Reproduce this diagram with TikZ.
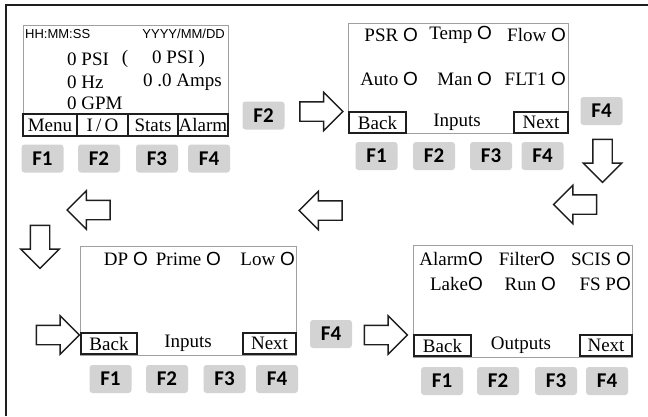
\documentclass[tikz,border=0pt]{standalone}
\usepackage{fontspec}
\setmainfont{Liberation Serif}
\setsansfont{Liberation Sans}
\newfontfamily\keyfont{Carlito}
\usepackage{xcolor}
\usetikzlibrary{shapes.arrows}
\definecolor{keygray}{HTML}{D3D3D3}
\definecolor{lcdline}{HTML}{A0A0A0}
\definecolor{inkblack}{HTML}{1E1E1E}
\newcommand{\lamp}{\textsf{O}}
\newcommand{\shaft}{\rule{0pt}{18pt}}
\newcommand{\vshaft}{\rule{18pt}{0pt}}

\tikzset{
  lcd/.style={draw=lcdline, line width=1pt, inner sep=0pt},
  softkey/.style={draw=inkblack, line width=1.3pt, inner sep=0pt, font=\fontsize{19}{19}\selectfont},
  fkey/.style={fill=keygray, rounded corners=3pt, minimum width=42pt, minimum height=28pt, inner sep=0pt, font=\keyfont\bfseries\fontsize{21}{21}\selectfont},
  lcdtext/.style={inner sep=0pt, font=\fontsize{19}{19}\selectfont},
  clock/.style={inner sep=0pt, font=\sffamily\fontsize{13}{13}\selectfont},
  blockarrow/.style={single arrow, draw=inkblack, fill=white, line width=1.4pt, minimum height=43pt, single arrow head extend=9.5pt, inner sep=0pt},
}

\begin{document}
\begin{tikzpicture}[x=1pt, y=-1pt]
  \useasboundingbox (0,0) rectangle (648,416);
  \draw[line width=2pt, inkblack] (6,416) -- (6,5) -- (648,5);

  % home screen
  \node[lcd, minimum width=205pt, minimum height=111pt] (scrHome) at (125.5,80.5) {};
  \node[clock, anchor=west] (homeTime) at (25,34) {HH:MM:SS};
  \node[clock, anchor=east] (homeDate) at (225,34) {YYYY/MM/DD};
  \node[lcdtext, anchor=west] (homePsi) at (67,59) {0 PSI};
  \node[lcdtext] (homeParen) at (125,59) {(};
  \node[lcdtext, anchor=west] (homeSet) at (152,59) {0 PSI )};
  \node[lcdtext, anchor=west] (homeHz) at (67,82) {0 Hz};
  \node[lcdtext, anchor=east] (homeAmps) at (222,82) {0 .0 Amps};
  \node[lcdtext, anchor=west] (homeGpm) at (67,103) {0 GPM};
  \node[softkey, minimum width=54pt, minimum height=22pt] (homeMenu) at (50,125) {Menu};
  \node[softkey, minimum width=51pt, minimum height=22pt] (homeIo) at (102.5,125) {I\,/\,O};
  \node[softkey, minimum width=50pt, minimum height=22pt] (homeStats) at (153,125) {Stats};
  \node[softkey, minimum width=50pt, minimum height=22pt] (homeAlarm) at (203,125) {Alarm};
  \node[fkey] (homeF1) at (42.5,158.5) {F1};
  \node[fkey] (homeF2) at (99,158.5) {F2};
  \node[fkey] (homeF3) at (157,158.5) {F3};
  \node[fkey] (homeF4) at (209,158.5) {F4};

  % inputs screen, page 1
  \node[fkey] (goInA) at (263.5,115.5) {F2};
  \node[blockarrow] (arInA) at (316.5,111.5) {\shaft};
  \node[lcd, minimum width=220pt, minimum height=110pt] (scrInA) at (458,78) {};
  \node[lcdtext, anchor=east] (inPsr) at (418,35) {PSR \lamp};
  \node[lcdtext, anchor=east] (inTemp) at (492,35) {Temp \lamp};
  \node[lcdtext, anchor=east] (inFlow) at (566,35) {Flow \lamp};
  \node[lcdtext, anchor=east] (inAuto) at (418,79) {Auto \lamp};
  \node[lcdtext, anchor=east] (inMan) at (492,79) {Man \lamp};
  \node[lcdtext, anchor=east] (inFlt) at (566,79) {FLT1 \lamp};
  \node[softkey, minimum width=57pt, minimum height=21pt] (inABack) at (377.5,122.5) {Back};
  \node[lcdtext] (inATitle) at (457,122) {Inputs};
  \node[softkey, minimum width=54pt, minimum height=21pt] (inANext) at (541,122.5) {Next};
  \node[fkey] (inAF1) at (376.5,156) {F1};
  \node[fkey] (inAF2) at (434,156) {F2};
  \node[fkey] (inAF3) at (491,156) {F3};
  \node[fkey] (inAF4) at (542.5,156) {F4};
  \node[fkey] (goInB) at (601.5,111) {F4};
  \node[blockarrow, shape border rotate=270] (arDown) at (602.5,156) {\vshaft};

  % return arrows
  \node[blockarrow, shape border rotate=180] (arBackA) at (580,204.5) {\shaft};
  \node[blockarrow, shape border rotate=180] (arBackB) at (325.5,210.5) {\shaft};
  \node[blockarrow, shape border rotate=180] (arBackC) at (93.5,210) {\shaft};
  \node[blockarrow, shape border rotate=270] (arTurn) at (40,242) {\vshaft};

  % inputs screen, page 2
  \node[blockarrow] (arInB) at (53,335) {\shaft};
  \node[lcd, minimum width=216pt, minimum height=109pt] (scrInB) at (188,300.5) {};
  \node[lcdtext, anchor=east] (inDp) at (148,259) {DP \lamp};
  \node[lcdtext, anchor=east] (inPrime) at (221,259) {Prime \lamp};
  \node[lcdtext, anchor=east] (inLow) at (295,259) {Low \lamp};
  \node[softkey, minimum width=56pt, minimum height=21pt] (inBBack) at (109,343.5) {Back};
  \node[lcdtext] (inBTitle) at (188,343) {Inputs};
  \node[softkey, minimum width=53pt, minimum height=21pt] (inBNext) at (269.5,343.5) {Next};
  \node[fkey] (inBF1) at (110.5,379) {F1};
  \node[fkey] (inBF2) at (167,379) {F2};
  \node[fkey] (inBF3) at (224.5,379) {F3};
  \node[fkey] (inBF4) at (277,379) {F4};

  % outputs screen
  \node[fkey] (goOut) at (331,334) {F4};
  \node[blockarrow] (arOut) at (381,335) {\shaft};
  \node[lcd, minimum width=219pt, minimum height=112pt] (scrOut) at (522.5,301) {};
  \node[lcdtext, anchor=east] (outAlarm) at (483,259) {Alarm\lamp};
  \node[lcdtext, anchor=east] (outFilter) at (555,259) {Filter\lamp};
  \node[lcdtext, anchor=east] (outScis) at (631,259) {SCIS \lamp};
  \node[lcdtext, anchor=east] (outLake) at (483,284) {Lake\lamp};
  \node[lcdtext, anchor=east] (outRun) at (556,284) {Run \lamp};
  \node[lcdtext, anchor=east] (outFsp) at (631,284) {FS P\lamp};
  \node[softkey, minimum width=57pt, minimum height=21pt] (outBack) at (442.5,345.5) {Back};
  \node[lcdtext] (outTitle) at (521,345) {Outputs};
  \node[softkey, minimum width=52pt, minimum height=21pt] (outNext) at (606,345.5) {Next};
  \node[fkey] (outF1) at (442,381) {F1};
  \node[fkey] (outF2) at (498,381) {F2};
  \node[fkey] (outF3) at (556,381) {F3};
  \node[fkey] (outF4) at (607,381) {F4};
\end{tikzpicture}
\end{document}
